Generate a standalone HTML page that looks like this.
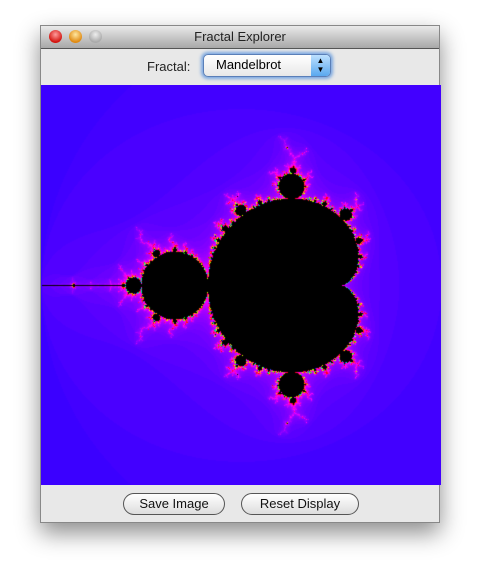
<!DOCTYPE html>
<html><head><meta charset="utf-8"><style>
html,body{margin:0;padding:0;background:#fff;width:480px;height:578px;overflow:hidden;font-family:"Liberation Sans",sans-serif;}
#win{position:absolute;left:40px;top:25px;width:400px;height:498px;background:#e8e8e8;box-shadow:0 10px 22px rgba(0,0,0,0.45);border:1px solid #888;box-sizing:border-box;}
#title{position:absolute;left:0;top:0;width:398px;height:22px;background:linear-gradient(#e9e9e9,#a8a8a8);border-bottom:1px solid #555;text-align:center;font-size:13px;line-height:22px;color:#222;border-radius:4px 4px 0 0;}
.light{position:absolute;top:4px;width:13px;height:13px;border-radius:50%;}
#toolbar{position:absolute;left:0;top:23px;width:398px;height:36px;}
#lbl{position:absolute;left:106px;top:10px;font-size:13px;color:#222;}
#combo{position:absolute;left:162px;top:5px;width:126px;height:21px;border-radius:5px;border:1px solid #5a7fb8;box-shadow:0 0 3px 2px #7aa7e0;background:linear-gradient(#fff,#e8e8e8);font-size:13px;}
#combo span{position:absolute;left:12px;top:2px;}
#arrow{position:absolute;right:0;top:0;width:19px;height:21px;border-radius:0 4px 4px 0;background:linear-gradient(#bde0ff,#5aa8ef);font-size:8px;text-align:center;line-height:9px;padding-top:1px;box-sizing:border-box;}
#fr{position:absolute;left:0;top:59px;}
.btn{position:absolute;top:467px;height:20px;border:1px solid #555;border-radius:11px;background:linear-gradient(#fff,#ddd);font-size:13px;text-align:center;line-height:20px;color:#111;}
</style></head><body>
<div id="win">
 <div id="title">Fractal Explorer
  <div class="light" style="left:8px;background:radial-gradient(circle at 50% 35%,#ff9c9c,#d3140f 70%)"></div>
  <div class="light" style="left:28px;background:radial-gradient(circle at 50% 35%,#ffe7a0,#e08a12 70%)"></div>
  <div class="light" style="left:48px;background:radial-gradient(circle at 50% 35%,#eee,#aaa 70%)"></div>
 </div>
 <div id="toolbar">
  <div id="lbl">Fractal:</div>
  <div id="combo"><span>Mandelbrot</span><div id="arrow">▲<br>▼</div></div>
 </div>
 <canvas id="fr" width="400" height="400"></canvas>
 <div class="btn" style="left:82px;width:100px">Save Image</div>
 <div class="btn" style="left:200px;width:116px">Reset Display</div>
</div>
<script>
const xRange=[-2,1];
const yRange=[-1.5,1.5];
const maxIter=[400];
const c=document.getElementById('fr'),ctx=c.getContext('2d');
const W=400,H=400,img=ctx.createImageData(W,H);
function hsb(h){h=(h%1+1)%1*6;const i=Math.floor(h),f=h-i;const q=1-f,t=f;let r,g,b;
 switch(i){case 0:r=1;g=t;b=0;break;case 1:r=q;g=1;b=0;break;case 2:r=0;g=1;b=t;break;case 3:r=0;g=q;b=1;break;case 4:r=t;g=0;b=1;break;default:r=1;g=0;b=q;}
 return [r*255,g*255,b*255];}
for(let py=0;py<H;py++){const ci=yRange[0]+(yRange[1]-yRange[0])*py/H;
 for(let px=0;px<W;px++){const cr=xRange[0]+(xRange[1]-xRange[0])*px/W;
  let x=0,y=0,n=0;while(n<maxIter[0]&&x*x+y*y<4){const t=x*x-y*y+cr;y=2*x*y+ci;x=t;n++;}
  const k=(py*W+px)*4;let col=[0,0,0];if(n<maxIter[0])col=hsb(0.7+n/200);
  img.data[k]=col[0];img.data[k+1]=col[1];img.data[k+2]=col[2];img.data[k+3]=255;}}
ctx.putImageData(img,0,0);
</script>
</body></html>
